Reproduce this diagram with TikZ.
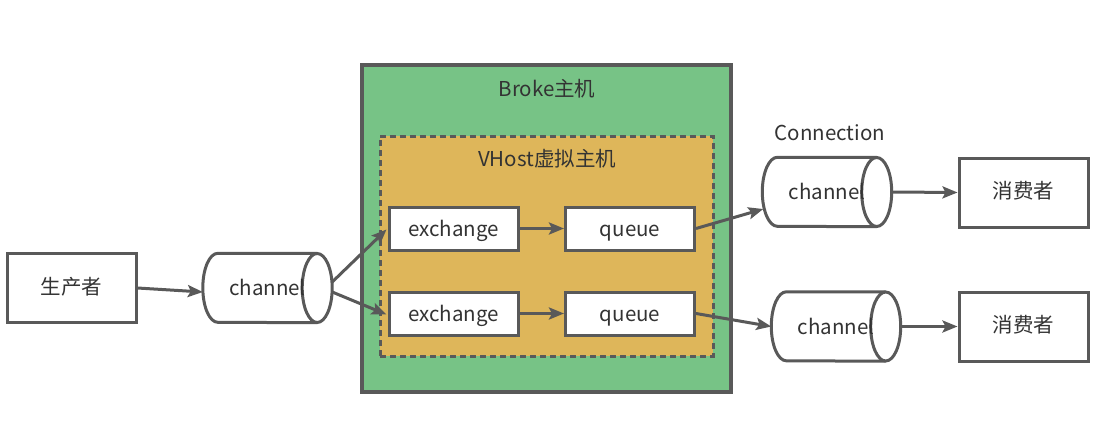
\documentclass[tikz,border=0pt]{standalone}
\usepackage{fontspec}
\setmainfont{Noto Sans CJK SC}
\usetikzlibrary{arrows.meta,calc}
\definecolor{edge}{HTML}{595959}
\definecolor{brokefill}{HTML}{77C386}
\definecolor{vhostfill}{HTML}{DEB65A}
\definecolor{txt}{HTML}{333333}
\tikzset{
  txtfont/.style={text=txt, font=\fontsize{20.5}{24}\selectfont, text height=16pt, text depth=4pt},
  latin/.style={text height=19pt, text depth=4pt},
  box/.style={draw=edge, line width=3pt, fill=white, minimum width=129pt, minimum height=69pt, inner sep=0pt, txtfont},
  smallbox/.style={box, minimum width=129pt, minimum height=43pt, latin},
  chanbox/.style={draw=none, minimum width=129pt, minimum height=69pt, inner sep=0pt},
  cyl/.style={draw=edge, line width=3pt},
  conn/.style={draw=edge, line width=3pt, -{Stealth[length=15pt,width=12pt,inset=3pt]}},
  lbl/.style={txtfont, inner sep=0pt},
}
\newcommand{\chanshape}[1]{%
  \fill[white] ([xshift=-15pt]#1.north east) -- ([xshift=15pt]#1.north west) arc[start angle=90,end angle=270,x radius=15pt,y radius=34.5pt] -- ([xshift=-15pt]#1.south east) -- cycle;
  \draw[cyl] ([xshift=-15pt]#1.north east) -- ([xshift=15pt]#1.north west) arc[start angle=90,end angle=270,x radius=15pt,y radius=34.5pt] -- ([xshift=-15pt]#1.south east);
  \draw[cyl,fill=white] ([xshift=-15pt]#1.east) ellipse [x radius=15pt, y radius=34.5pt];
}
\begin{document}
\begin{tikzpicture}[x=1pt,y=-1pt]
\useasboundingbox (0,0) rectangle (1109,447);
% containers
\node[draw=edge, line width=3.5pt, fill=brokefill, minimum width=369pt, minimum height=327pt, inner sep=0pt] (broke) at (546.5,228.5) {};
\node[lbl] (brokelbl) at (547,90) {Broke主机};
\node[draw=edge, line width=3pt, dash pattern=on 6pt off 4pt, fill=vhostfill, minimum width=333pt, minimum height=220pt, inner sep=0pt] (vhost) at (546.5,246) {};
\node[lbl] (vhostlbl) at (547,160) {VHost虚拟主机};
% producer
\node[box] (prod) at (71.5,288) {生产者};
% channel 1
\node[chanbox] (ch1) at (267.5,288) {};
\chanshape{ch1}
\node[lbl,latin] at (ch1) {channel};
% exchanges & queues
\node[smallbox] (ex1) at (453.5,228.5) {exchange};
\node[smallbox] (q1) at (630,228.5) {queue};
\node[smallbox] (ex2) at (453.5,313.5) {exchange};
\node[smallbox] (q2) at (630,313.5) {queue};
% right channels
\node[lbl,latin] (connlbl) at (830,133) {Connection};
\node[chanbox] (ch2) at (827,192) {};
\chanshape{ch2}
\node[lbl,latin] at (ch2) {channel};
\node[chanbox] (ch3) at (836,326.5) {};
\chanshape{ch3}
\node[lbl,latin] at (ch3) {channel};
% consumers
\node[box] (c1) at (1023.5,192.5) {消费者};
\node[box] (c2) at (1023.5,326.5) {消费者};
% connectors
\draw[conn] (prod.east) -- ($(ch1.west)+(0,4)$);
\draw[conn] ($(ch1.east)+(0,-6)$) -- ($(ex1.west)+(-1,1)$);
\draw[conn] ($(ch1.east)+(0,4)$) -- ($(ex2.west)+(-1,1)$);
\draw[conn] (ex1.east) -- (q1.west);
\draw[conn] (ex2.east) -- (q2.west);
\draw[conn] (q1.east) -- ($(ch2.west)+(1,17)$);
\draw[conn] (q2.east) -- (ch3.west);
\draw[conn] (ch2.east) -- (c1.west);
\draw[conn] (ch3.east) -- (c2.west);
\end{tikzpicture}
\end{document}
